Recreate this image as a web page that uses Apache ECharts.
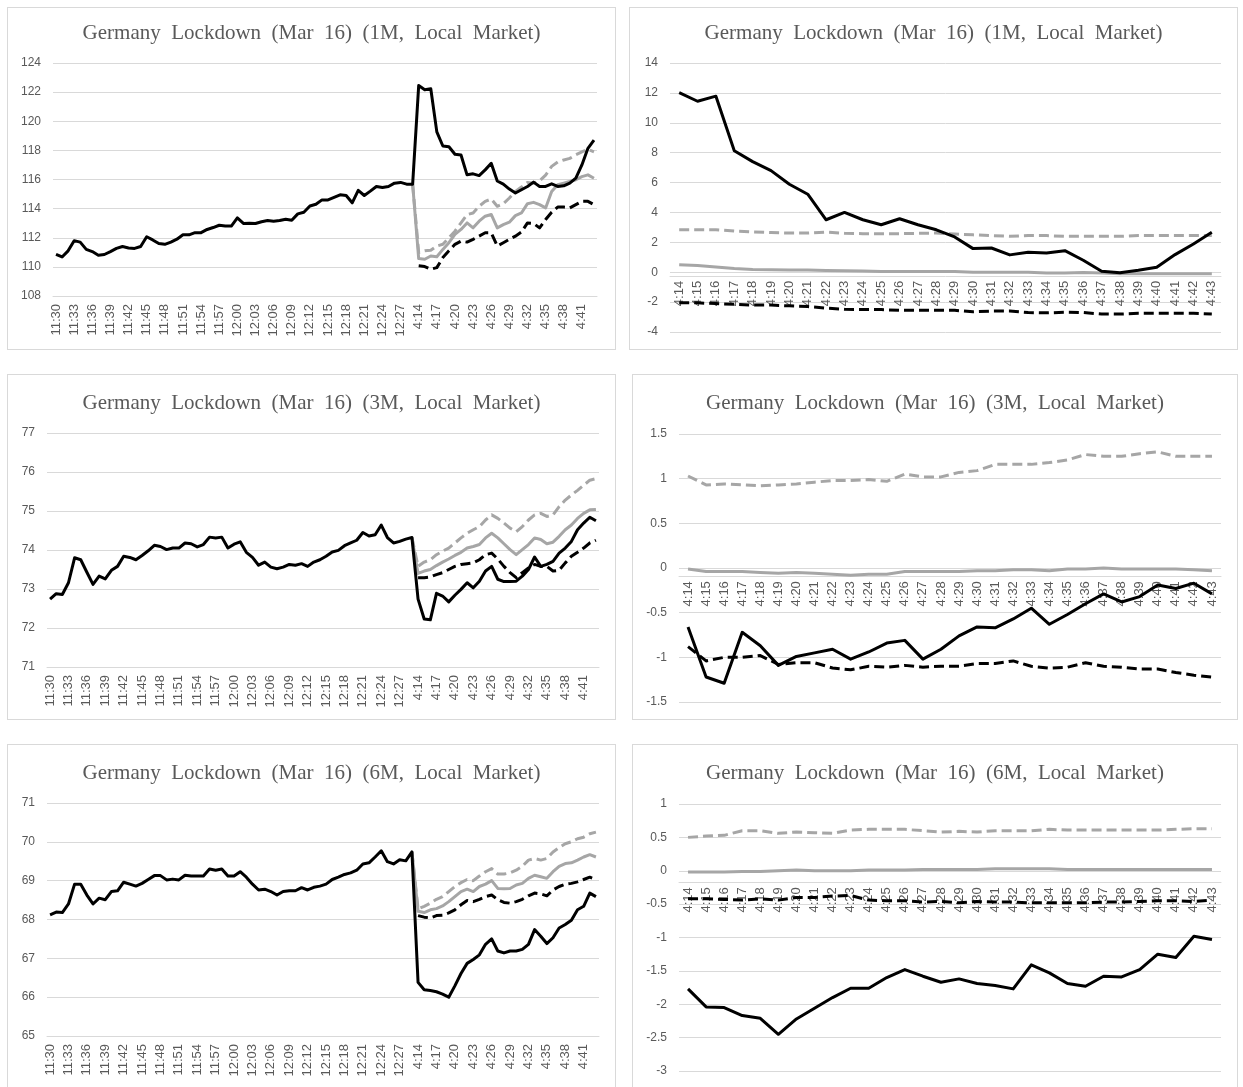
<!DOCTYPE html>
<html>
<head>
<meta charset="utf-8">
<script src="https://cdn.jsdelivr.net/npm/echarts@6/dist/echarts.min.js"></script>
<style>
html,body{margin:0;padding:0;background:#fff;width:1243px;height:1087px;overflow:hidden;}
.p{position:absolute;box-sizing:border-box;border:1px solid #d9d9d9;background:#fff;}
</style>
</head>
<body>
<div id="c1" class="p" style="left:7px;top:7px;width:609px;height:343px;"></div>
<div id="c2" class="p" style="left:629px;top:7px;width:609px;height:343px;"></div>
<div id="c3" class="p" style="left:7px;top:374px;width:609px;height:346px;"></div>
<div id="c4" class="p" style="left:632px;top:374px;width:606px;height:346px;"></div>
<div id="c5" class="p" style="left:7px;top:744px;width:609px;height:346px;"></div>
<div id="c6" class="p" style="left:632px;top:744px;width:606px;height:346px;"></div>
<script>
// ---------- categories ----------
const preTimes = ["11:30","11:31","11:32","11:33","11:34","11:35","11:36","11:37","11:38","11:39",
"11:40","11:41","11:42","11:43","11:44","11:45","11:46","11:47","11:48","11:49",
"11:50","11:51","11:52","11:53","11:54","11:55","11:56","11:57","11:58","11:59",
"12:00","12:01","12:02","12:03","12:04","12:05","12:06","12:07","12:08","12:09",
"12:10","12:11","12:12","12:13","12:14","12:15","12:16","12:17","12:18","12:19",
"12:20","12:21","12:22","12:23","12:24","12:25","12:26","12:27","12:28","12:29"];
const postTimes = ["4:14","4:15","4:16","4:17","4:18","4:19","4:20","4:21","4:22","4:23",
"4:24","4:25","4:26","4:27","4:28","4:29","4:30","4:31","4:32","4:33",
"4:34","4:35","4:36","4:37","4:38","4:39","4:40","4:41","4:42","4:43"];

// ---------- 1M level ----------
const m1BlackPre = [110.86,110.68,111.1,111.8,111.7,111.2,111.05,110.8,110.85,111.05,111.27,111.4,111.3,111.27,111.4,112.07,111.85,111.6,111.55,111.7,111.9,112.2,112.2,112.35,112.35,112.57,112.7,112.86,112.8,112.8,113.36,112.98,113.0,112.98,113.1,113.18,113.14,113.18,113.27,113.2,113.64,113.75,114.18,114.3,114.6,114.6,114.77,114.95,114.9,114.4,115.25,114.9,115.2,115.52,115.45,115.52,115.75,115.8,115.68,115.68];
const m1BlackPost = [122.45,122.16,122.23,119.27,118.3,118.25,117.73,117.68,116.32,116.39,116.27,116.66,117.11,115.9,115.68,115.34,115.07,115.3,115.52,115.82,115.52,115.52,115.7,115.52,115.57,115.75,116.09,117.0,118.14,118.7];
const m1GrayDashPost = [110.98,111.1,111.14,111.43,111.55,112.0,112.45,113.02,113.59,113.7,114.16,114.5,114.66,114.16,114.34,114.73,115.18,115.48,115.8,115.75,115.9,116.3,116.9,117.2,117.34,117.45,117.7,117.9,118.07,117.9];
const m1GrayPost = [110.57,110.52,110.75,110.7,111.2,111.66,112.23,112.57,113.02,112.68,113.14,113.48,113.6,112.68,112.9,113.07,113.52,113.7,114.34,114.43,114.27,114.05,115.18,115.64,115.75,115.86,115.98,116.2,116.32,116.09];
const m1BlackDashPost = [110.07,110.02,109.84,109.95,110.64,111.1,111.55,111.77,111.7,111.89,112.11,112.34,112.34,111.43,111.66,111.89,112.11,112.39,113.02,112.98,112.68,113.25,113.75,114.11,114.11,114.05,114.27,114.5,114.5,114.27];

// ---------- 1M difference ----------
const d1Black = [12.02,11.44,11.78,8.13,7.4,6.8,5.89,5.22,3.51,4.0,3.51,3.18,3.58,3.18,2.84,2.36,1.58,1.62,1.16,1.33,1.29,1.44,0.8,0.07,-0.04,0.13,0.33,1.18,1.89,2.67];
const d1GrayDash = [2.85,2.85,2.85,2.75,2.7,2.65,2.62,2.62,2.68,2.6,2.58,2.58,2.58,2.6,2.62,2.55,2.5,2.45,2.4,2.45,2.45,2.4,2.4,2.4,2.4,2.45,2.45,2.45,2.45,2.45];
const d1Gray = [0.5,0.45,0.35,0.25,0.18,0.17,0.15,0.15,0.12,0.1,0.08,0.05,0.05,0.05,0.05,0.05,0.0,0.0,0.0,0.0,-0.05,-0.05,-0.02,-0.05,-0.1,-0.1,-0.1,-0.1,-0.1,-0.1];
const d1BlackDash = [-2.05,-2.05,-2.1,-2.15,-2.2,-2.2,-2.25,-2.3,-2.4,-2.48,-2.5,-2.5,-2.55,-2.55,-2.55,-2.55,-2.65,-2.6,-2.6,-2.7,-2.72,-2.68,-2.7,-2.8,-2.8,-2.75,-2.75,-2.75,-2.75,-2.8];

// ---------- 3M level ----------
const m3BlackPre = [72.74,72.88,72.86,73.16,73.8,73.75,73.43,73.12,73.33,73.26,73.48,73.58,73.84,73.81,73.75,73.86,73.98,74.12,74.09,74.01,74.05,74.05,74.18,74.16,74.08,74.14,74.33,74.31,74.33,74.05,74.15,74.21,73.94,73.81,73.61,73.69,73.56,73.52,73.56,73.63,73.61,73.65,73.58,73.69,73.75,73.84,73.95,73.99,74.11,74.18,74.25,74.45,74.36,74.39,74.64,74.32,74.18,74.22,74.28,74.32];
const m3BlackPost = [72.74,72.23,72.21,72.89,72.82,72.67,72.84,72.99,73.16,73.03,73.2,73.46,73.58,73.25,73.19,73.19,73.2,73.33,73.5,73.82,73.58,73.63,73.71,73.92,74.05,74.22,74.52,74.69,74.84,74.75];
const m3GrayDashPost = [73.58,73.69,73.75,73.88,73.97,74.05,74.18,74.31,74.43,74.52,74.6,74.77,74.9,74.81,74.69,74.56,74.47,74.6,74.77,74.9,74.94,74.86,74.9,75.11,75.28,75.41,75.53,75.66,75.79,75.83];
const m3GrayPost = [73.4,73.46,73.5,73.6,73.69,73.77,73.86,73.94,74.05,74.09,74.14,74.31,74.43,74.31,74.16,74.01,73.88,74.01,74.14,74.31,74.27,74.16,74.2,74.35,74.52,74.64,74.81,74.94,75.03,75.04];
const m3BlackDashPost = [73.29,73.29,73.31,73.37,73.42,73.5,73.58,73.63,73.65,73.67,73.75,73.88,73.92,73.77,73.58,73.42,73.29,73.42,73.54,73.63,73.58,73.58,73.46,73.48,73.67,73.84,73.94,74.05,74.18,74.25];

// ---------- 3M difference ----------
const d3Black = [-0.66,-1.22,-1.29,-0.72,-0.87,-1.09,-0.99,-0.95,-0.91,-1.02,-0.94,-0.84,-0.81,-1.02,-0.91,-0.76,-0.66,-0.67,-0.57,-0.45,-0.63,-0.52,-0.4,-0.29,-0.38,-0.32,-0.19,-0.23,-0.17,-0.29];
const d3GrayDash = [1.03,0.93,0.94,0.93,0.92,0.93,0.94,0.96,0.98,0.98,0.99,0.97,1.05,1.02,1.02,1.07,1.09,1.16,1.16,1.16,1.18,1.21,1.27,1.25,1.25,1.28,1.3,1.25,1.25,1.25];
const d3Gray = [-0.01,-0.04,-0.04,-0.04,-0.05,-0.06,-0.05,-0.06,-0.07,-0.08,-0.07,-0.07,-0.04,-0.04,-0.04,-0.04,-0.03,-0.03,-0.02,-0.02,-0.03,-0.01,-0.01,0.0,-0.01,-0.01,-0.01,-0.01,-0.02,-0.03];
const d3BlackDash = [-0.88,-1.04,-1.0,-1.0,-0.98,-1.08,-1.06,-1.06,-1.12,-1.14,-1.1,-1.11,-1.09,-1.11,-1.1,-1.1,-1.07,-1.07,-1.04,-1.1,-1.12,-1.11,-1.06,-1.1,-1.11,-1.13,-1.13,-1.17,-1.2,-1.22];

// ---------- 6M level ----------
const m6BlackPre = [68.12,68.19,68.18,68.4,68.91,68.91,68.63,68.4,68.55,68.51,68.72,68.74,68.96,68.91,68.86,68.93,69.03,69.13,69.13,69.02,69.04,69.02,69.14,69.12,69.12,69.12,69.3,69.27,69.3,69.12,69.12,69.23,69.09,68.91,68.76,68.78,68.72,68.63,68.72,68.74,68.74,68.82,68.76,68.83,68.86,68.91,69.03,69.09,69.16,69.2,69.27,69.43,69.46,69.61,69.77,69.49,69.43,69.54,69.51,69.74];
const m6BlackPost = [66.38,66.19,66.17,66.14,66.08,66.0,66.29,66.61,66.87,66.97,67.09,67.36,67.5,67.19,67.14,67.19,67.19,67.23,67.36,67.74,67.57,67.38,67.53,67.78,67.87,67.98,68.25,68.34,68.68,68.59];
const m6GrayDashPost = [68.27,68.34,68.42,68.52,68.59,68.72,68.85,68.95,69.03,69.0,69.12,69.23,69.31,69.17,69.17,69.2,69.27,69.37,69.53,69.57,69.53,69.57,69.74,69.85,69.95,70.0,70.08,70.12,70.21,70.25];
const m6GrayPost = [68.21,68.18,68.25,68.28,68.35,68.46,68.59,68.72,68.78,68.72,68.85,68.91,69.0,68.8,68.79,68.8,68.89,68.93,69.06,69.14,69.1,69.06,69.23,69.37,69.44,69.46,69.53,69.61,69.67,69.61];
const m6BlackDashPost = [68.1,68.06,68.04,68.1,68.11,68.17,68.25,68.38,68.49,68.46,68.52,68.59,68.63,68.51,68.44,68.42,68.46,68.52,68.61,68.68,68.66,68.61,68.76,68.85,68.91,68.93,68.97,69.03,69.09,69.03];

// ---------- 6M difference ----------
const d6Black = [-1.77,-2.04,-2.05,-2.17,-2.21,-2.45,-2.22,-2.06,-1.9,-1.76,-1.76,-1.6,-1.48,-1.58,-1.67,-1.62,-1.69,-1.72,-1.77,-1.41,-1.53,-1.69,-1.73,-1.58,-1.59,-1.48,-1.25,-1.3,-0.98,-1.03];
const d6GrayDash = [0.5,0.52,0.53,0.6,0.6,0.56,0.58,0.57,0.56,0.61,0.62,0.62,0.62,0.6,0.58,0.59,0.58,0.6,0.6,0.6,0.62,0.61,0.61,0.61,0.61,0.61,0.61,0.62,0.63,0.63];
const d6Gray = [-0.02,-0.02,-0.02,-0.01,-0.01,0.0,0.01,0.0,0.0,0.0,0.01,0.01,0.01,0.02,0.02,0.02,0.02,0.03,0.03,0.03,0.03,0.02,0.02,0.02,0.02,0.02,0.02,0.02,0.02,0.02];
const d6BlackDash = [-0.42,-0.42,-0.43,-0.44,-0.42,-0.44,-0.4,-0.4,-0.38,-0.37,-0.44,-0.45,-0.45,-0.47,-0.46,-0.48,-0.46,-0.47,-0.47,-0.48,-0.48,-0.48,-0.48,-0.47,-0.47,-0.46,-0.45,-0.45,-0.46,-0.44];

// ---------- build ----------
const allTimes = preTimes.concat(postTimes);
const GRAY = '#a6a6a6';
const TXT = '#595959';
const DASH = [10, 5];

function pad(n){ return new Array(n).fill(null); }

function lineSeries(data, color, dashed, z){
  return {
    type: 'line', data: data, symbol: 'none', z: z, connectNulls: false,
    lineStyle: { color: color, width: 3, type: dashed ? DASH : 'solid', cap: 'butt', join: 'round' },
    animation: false
  };
}

function leftSeries(pre, post, grayDash, gray, blackDash){
  const last = pre[pre.length - 1];
  return [
    lineSeries(pad(pre.length - 1).concat([last], grayDash), GRAY, true, 2),
    lineSeries(pad(pre.length - 1).concat([last], gray), GRAY, false, 3),
    lineSeries(pad(pre.length).concat(blackDash), '#000', true, 4),
    lineSeries(pre.concat(post), '#000', false, 5)
  ];
}

function rightSeries(black, grayDash, gray, blackDash){
  return [
    lineSeries(grayDash, GRAY, true, 2),
    lineSeries(gray, GRAY, false, 3),
    lineSeries(blackDash, '#000', true, 4),
    lineSeries(black, '#000', false, 5)
  ];
}

function make(id, title, titleTop, cats, interval, series, yMin, yMax, yInt, grid, atZero){
  const ch = echarts.init(document.getElementById(id), null, {renderer: 'canvas'});
  ch.setOption({
    animation: false,
    title: {
      text: title, left: 'center', top: titleTop,
      textStyle: { fontFamily: 'Liberation Serif', fontSize: 21, fontWeight: 'normal', color: TXT }
    },
    grid: grid,
    xAxis: {
      type: 'category', data: cats, boundaryGap: true, offset: 0,
      axisLine: { show: true, onZero: false, lineStyle: { color: '#d9d9d9', width: 1 } },
      axisTick: { show: false },
      axisLabel: { interval: interval, rotate: 90, fontFamily: 'Liberation Sans', fontSize: 13, color: TXT, margin: atZero ? 5 : 8 },
      splitLine: { show: false }
    },
    yAxis: {
      type: 'value', min: yMin, max: yMax, interval: yInt,
      axisLine: { show: false }, axisTick: { show: false },
      axisLabel: { fontFamily: 'Liberation Sans', fontSize: 12, color: TXT, margin: 12 },
      splitLine: { lineStyle: { color: '#d9d9d9', width: 1 } }
    },
    series: series
  });
  if (atZero) {
    // move the category axis (and its labels) up to the zero line of the value axis
    const y0 = ch.convertToPixel({yAxisIndex: 0}, 0);
    const yb = ch.convertToPixel({yAxisIndex: 0}, yMin);
    ch.setOption({ xAxis: { offset: y0 - yb } });
  }
}

const T1 = 'Germany  Lockdown  (Mar  16)  (1M,  Local  Market)';
const T3 = 'Germany  Lockdown  (Mar  16)  (3M,  Local  Market)';
const T6 = 'Germany  Lockdown  (Mar  16)  (6M,  Local  Market)';

make('c1', T1, 10, allTimes, 2,
  leftSeries(m1BlackPre, m1BlackPost, m1GrayDashPost, m1GrayPost, m1BlackDashPost),
  108, 124, 2, {left: 45, right: 18, top: 55, bottom: 53}, false);
make('c2', T1, 10, postTimes, 0,
  rightSeries(d1Black, d1GrayDash, d1Gray, d1BlackDash),
  -4, 14, 2, {left: 40, right: 16, top: 55, bottom: 17}, true);
make('c3', T3, 13, allTimes, 2,
  leftSeries(m3BlackPre, m3BlackPost, m3GrayDashPost, m3GrayPost, m3BlackDashPost),
  71, 77, 1, {left: 39, right: 16, top: 58, bottom: 52}, false);
make('c4', T3, 13, postTimes, 0,
  rightSeries(d3Black, d3GrayDash, d3Gray, d3BlackDash),
  -1.5, 1.5, 0.5, {left: 46, right: 16, top: 59, bottom: 17}, true);
make('c5', T6, 13, allTimes, 2,
  leftSeries(m6BlackPre, m6BlackPost, m6GrayDashPost, m6GrayPost, m6BlackDashPost),
  65, 71, 1, {left: 39, right: 16, top: 58, bottom: 53}, false);
make('c6', T6, 13, postTimes, 0,
  rightSeries(d6Black, d6GrayDash, d6Gray, d6BlackDash),
  -3, 1, 0.5, {left: 46, right: 16, top: 59, bottom: 18}, true);
</script>
</body>
</html>
